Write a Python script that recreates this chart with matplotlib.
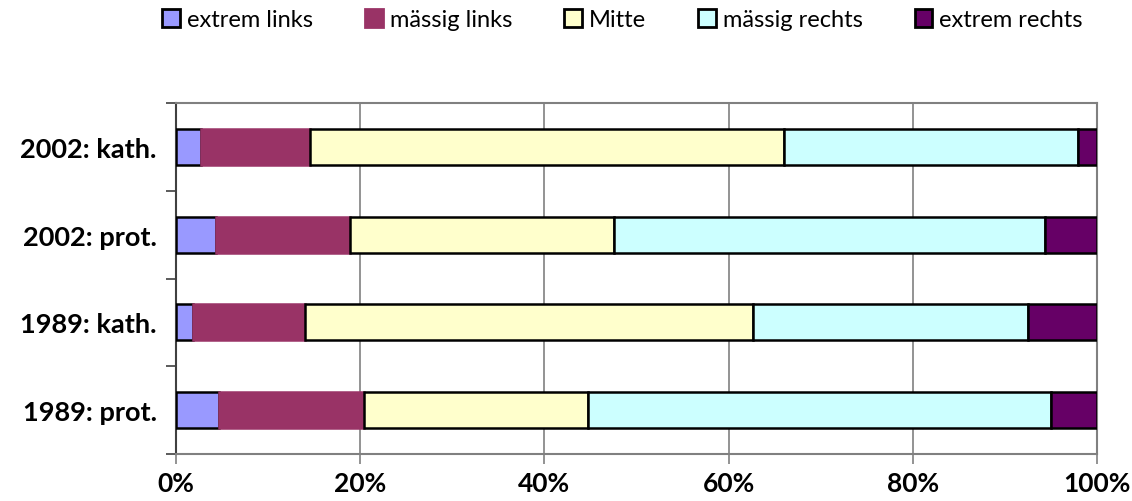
import matplotlib.pyplot as plt
import matplotlib.ticker as mticker
import numpy as np

# Political self-placement by denomination and survey year (shares in %)
groups = ["1989: prot.", "1989: kath.", "2002: prot.", "2002: kath."]
categories = ["extrem links", "mässig links", "Mitte", "mässig rechts", "extrem rechts"]
extrem_links = [4.7, 1.8, 4.3, 2.7]
maessig_links = [15.7, 12.2, 14.6, 11.8]
mitte = [24.3, 48.6, 28.7, 51.5]
maessig_rechts = [50.3, 29.9, 46.8, 31.9]
extrem_rechts = [5.0, 7.5, 5.6, 2.1]

series = [extrem_links, maessig_links, mitte, maessig_rechts, extrem_rechts]
colors = ["#9999ff", "#993366", "#ffffcc", "#ccffff", "#660066"]
edges = ["black", "#993366", "black", "black", "black"]

plt.rcParams["font.family"] = ["Lato", "DejaVu Sans"]

fig = plt.figure(figsize=(11.32, 5.02), dpi=100)
ax = fig.add_axes([176 / 1132, 1 - 455 / 502, 921 / 1132, 351 / 502])

y = np.arange(len(groups))
left = np.zeros(len(groups))
for name, vals, c, ec in zip(categories, series, colors, edges):
    vals = np.array(vals)
    ax.barh(y, vals, left=left, height=0.41, color=c, edgecolor=ec,
            linewidth=1.8, label=name, zorder=3)
    left += vals

ax.set_xlim(0, 100)
ax.set_ylim(-0.5, len(groups) - 0.5)
ax.xaxis.set_major_locator(mticker.MultipleLocator(20))
ax.xaxis.set_major_formatter(mticker.FuncFormatter(lambda v, p: f"{v:.0f}%"))
ax.grid(axis="x", color="#808080", linewidth=1.2, zorder=0)

ax.set_yticks(y)
ax.set_yticklabels(groups, fontsize=19.5, fontweight="bold")
ax.set_yticks(np.arange(-0.5, len(groups)), minor=True)
ax.tick_params(axis="y", which="major", length=0, pad=14)
ax.tick_params(axis="y", which="minor", length=7, width=1.2, color="#404040")
ax.tick_params(axis="x", length=7, width=1.2, color="#808080", labelsize=19, pad=5)
for lbl in ax.get_xticklabels():
    lbl.set_fontweight("bold")

for side in ["top", "right", "bottom"]:
    ax.spines[side].set_color("#808080")
    ax.spines[side].set_linewidth(1.5)
ax.spines["left"].set_color("#404040")
ax.spines["left"].set_linewidth(1.5)

leg = fig.legend(loc="upper center", bbox_to_anchor=(0.55, 1.022), ncol=5, frameon=False,
                 fontsize=17, handlelength=0.75, handleheight=0.75, handletextpad=0.3,
                 columnspacing=2.2)
for h, ec in zip(leg.legend_handles, edges):
    h.set_edgecolor(ec)
    h.set_linewidth(2)

fig.savefig("out.png", dpi=100)
